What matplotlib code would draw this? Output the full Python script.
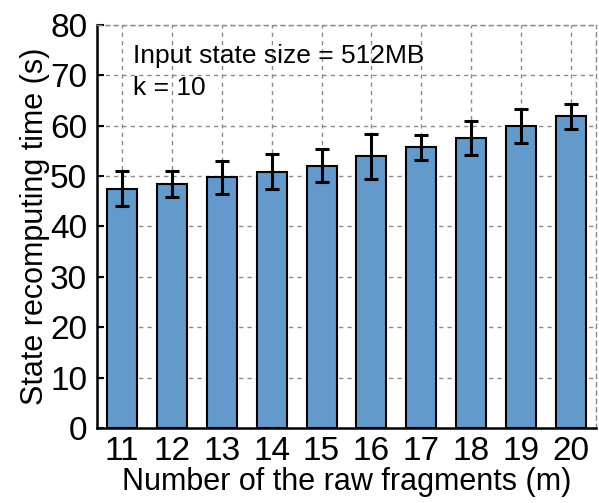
import matplotlib
matplotlib.use("Agg")
import matplotlib.pyplot as plt

plt.rcParams['font.family'] = ['Liberation Sans', 'DejaVu Sans']

fragments = [11, 12, 13, 14, 15, 16, 17, 18, 19, 20]
times = [47.5, 48.5, 49.8, 50.9, 52.1, 53.9, 55.7, 57.6, 60.0, 61.9]
errors = [3.5, 2.6, 3.3, 3.4, 3.3, 4.4, 2.4, 3.4, 3.4, 2.5]
yticks = [0, 10, 20, 30, 40, 50, 60, 70, 80]

fig = plt.figure(figsize=(5.99, 5.03), dpi=100)
ax = fig.add_axes([97/599, (503-428)/503, (596-97)/599, (428-25)/503])

ax.set_axisbelow(True)
ax.grid(True, linestyle=(0, (3, 3)), color='#8a8a8a', linewidth=1.0)
ax.bar(fragments, times, width=0.6, color='#6499cc', edgecolor='black', linewidth=1.5,
       yerr=errors, error_kw=dict(ecolor='black', elinewidth=2.2, capsize=5, capthick=2.2), zorder=2)

ax.set_xlim(10.5, 20.5)
ax.set_ylim(0, 80)
ax.set_xticks(fragments)
ax.set_yticks(yticks)
ax.tick_params(direction='in', length=5, width=1.5, labelsize=24)
ax.tick_params(axis='x', pad=6)
ax.tick_params(axis='y', pad=7)
ax.spines['left'].set_linewidth(1.8)
ax.spines['bottom'].set_linewidth(1.8)
for s in ['top', 'right']:
    ax.spines[s].set_linestyle((0, (3, 3)))
    ax.spines[s].set_color('#8a8a8a')
    ax.spines[s].set_linewidth(1.0)

ax.set_xlabel('Number of the raw fragments (m)', fontsize=22, labelpad=0)
ax.set_ylabel('State recomputing time (s)', fontsize=22, labelpad=0)

ax.text(0.072, 0.906, 'Input state size = 512MB', transform=ax.transAxes,
        fontsize=19, va='baseline', ha='left')
ax.text(0.072, 0.826, 'k = 10', transform=ax.transAxes,
        fontsize=19, va='baseline', ha='left')

fig.savefig('out.png', dpi=100)
